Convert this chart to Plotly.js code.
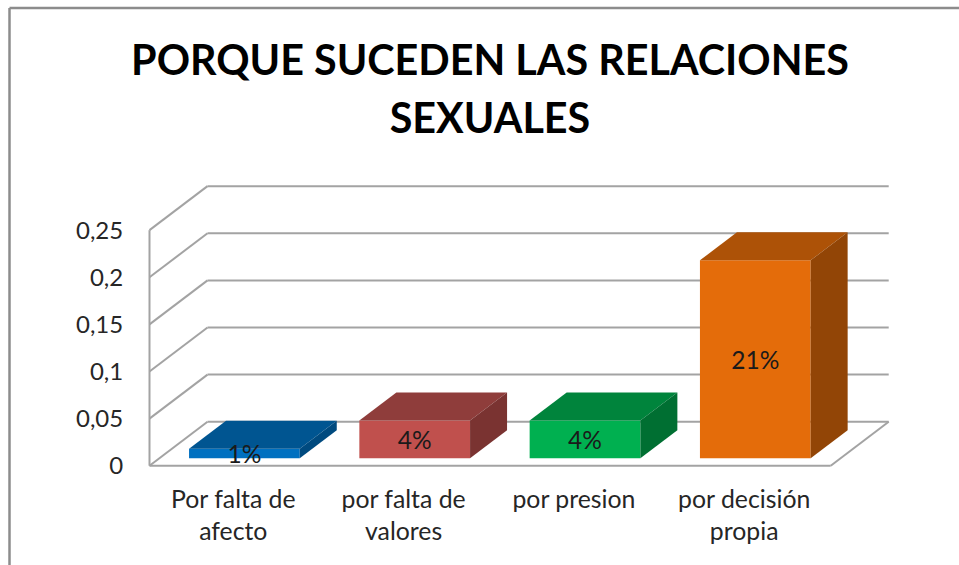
<!DOCTYPE html>
<html>
<head>
<meta charset="utf-8">
<script src="https://cdn.plot.ly/plotly-3.0.1.min.js"></script>
<style>
  html, body { margin: 0; padding: 0; background: #fff; overflow: hidden; }
</style>
</head>
<body>
<div id="chart" style="width:959px;height:565px;"></div>
<script>
// Data
var categories = ["Por falta de<br>afecto", "por falta de<br>valores", "por presion", "por decisión<br>propia"];
var values = [0.01, 0.04, 0.04, 0.21];
var valueLabels = ["1%", "4%", "4%", "21%"];
var yTicks = [0, 0.05, 0.1, 0.15, 0.2, 0.25];
var yTickLabels = ["0", "0,05", "0,1", "0,15", "0,2", "0,25"];

var frontColors = ["#0070C0", "#C0504D", "#00B050", "#E46C0A"];
var topColors = ["#005591", "#8F3D3B", "#00843C", "#AD5207"];
var sideColors = ["#004A7F", "#7A3331", "#006F32", "#924506"];

// 3D look: depth of the walls and of the bars, in axis units
var wallDx = 0.3406, wallDy = 0.0467;
var barDx = 0.2173, barDy = 0.0297;
var barShift = 0.0572, barWidth = 0.65, barBase = 0.008;
var xLeft = -0.5, xRight = 3.5;
var gridColor = "#A3A3A3";

// walls and floor go in as shapes, so they stay behind the bars
var shapes = [];
function wallLine(x0, y0, x1, y1) {
  shapes.push({
    type: "line", layer: "below", xref: "x", yref: "y",
    x0: x0, y0: y0, x1: x1, y1: y1,
    line: { color: gridColor, width: 2 }
  });
}
yTicks.forEach(function (t) {
  wallLine(xLeft, t, xLeft + wallDx, t + wallDy);
  wallLine(xLeft + wallDx, t + wallDy, xRight + wallDx, t + wallDy);
});
wallLine(xLeft, 0, xLeft, yTicks[yTicks.length - 1]);
wallLine(xLeft, 0, xRight, 0);
wallLine(xRight, 0, xRight + wallDx, wallDy);

// outer chart frame, only left and top are visible in the picture
var plotW = 759, plotH = 299, marginL = 140, marginT = 176;
function paperX(px) { return (px - marginL) / plotW; }
function paperY(px) { return 1 - (px - marginT) / plotH; }
[[9.5, 8, 9.5, 565], [9.5, 8, 959, 8]].forEach(function (f) {
  shapes.push({
    type: "line", xref: "paper", yref: "paper",
    x0: paperX(f[0]), y0: paperY(f[1]), x1: paperX(f[2]), y1: paperY(f[3]),
    line: { color: "#8C8C8C", width: 2.5 }
  });
});

function face(xs, ys, color) {
  return {
    type: "scatter", mode: "lines", x: xs, y: ys, fill: "toself",
    fillcolor: color, line: { width: 0, color: color }, hoverinfo: "skip", cliponaxis: false
  };
}

var traces = [];

// Create the front faces of the bars
var barX = categories.map(function (c, i) { return i + barShift; });
traces.push({
  type: "bar", x: barX, y: values, base: barBase, width: barWidth,
  marker: { color: frontColors, line: { width: 0 } }, hoverinfo: "skip"
});

// top and side faces come from the same values
values.forEach(function (v, i) {
  var x0 = barX[i] - barWidth / 2, x1 = barX[i] + barWidth / 2;
  var y0 = barBase, y1 = barBase + v;
  traces.push(face([x0, x1, x1 + barDx, x0 + barDx, x0], [y1, y1, y1 + barDy, y1 + barDy, y1], topColors[i]));
  traces.push(face([x1, x1 + barDx, x1 + barDx, x1, x1], [y0, y0 + barDy, y1 + barDy, y1, y0], sideColors[i]));
});

// value labels sit in the middle of the front face, a little low like the original
var labelDrop = 0.004;
traces.push({
  type: "scatter", mode: "text", x: barX,
  y: values.map(function (v) { return barBase + v / 2 - labelDrop; }),
  text: valueLabels, textposition: "middle center",
  textfont: { family: "Lato, sans-serif", size: 24.5, color: "#1a1a1a" },
  hoverinfo: "skip", cliponaxis: false
});

var layout = {
  width: 959, height: 565,
  margin: { l: marginL, r: 959 - marginL - plotW, t: marginT, b: 565 - marginT - plotH, pad: 0 },
  paper_bgcolor: "#fff", plot_bgcolor: "#fff",
  showlegend: false, hovermode: false,
  font: { family: "Lato, sans-serif", color: "#262626" },
  title: {
    // root size sets the line gap, the spans set the letter size
    text: "<span style=\"font-size:41.3px\">PORQUE SUCEDEN LAS RELACIONES</span><br><span style=\"font-size:41.3px\">SEXUALES</span>",
    x: 490 / 959, xanchor: "center", y: 1 - 75 / 565, yanchor: "top",
    font: { family: "Lato, sans-serif", size: 44.5, color: "#000", weight: 700 }
  },
  xaxis: {
    range: [-0.5558, 3.901], showgrid: false, zeroline: false, showline: false,
    tickmode: "array", tickvals: categories.map(function (c, i) { return i - 0.008; }), ticktext: categories,
    ticks: "outside", ticklen: 2, tickcolor: "rgba(0,0,0,0)",
    tickfont: { family: "Lato, sans-serif", size: 24.8, color: "#262626" }
  },
  yaxis: {
    range: [-0.00987, 0.3075], showgrid: false, zeroline: false, showline: false,
    tickmode: "array", tickvals: yTicks, ticktext: yTickLabels,
    ticks: "outside", ticklen: 11, tickcolor: "rgba(0,0,0,0)",
    tickfont: { family: "Lato, sans-serif", size: 24, color: "#262626" }
  },
  shapes: shapes
};

Plotly.newPlot("chart", traces, layout, { displayModeBar: false, staticPlot: true });
</script>
</body>
</html>
